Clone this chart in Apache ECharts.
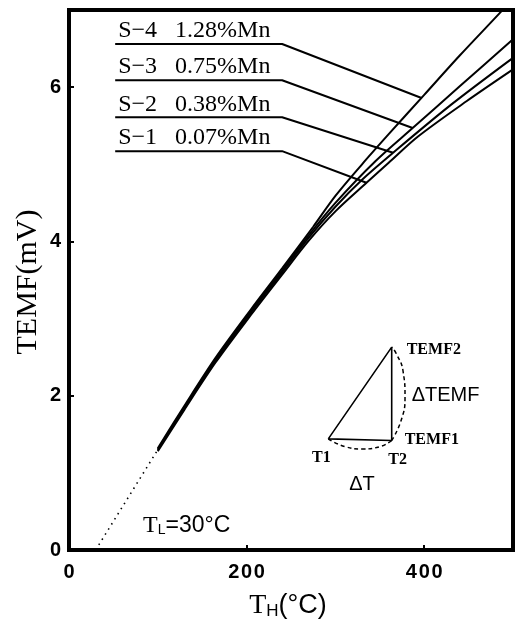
<!DOCTYPE html>
<html><head><meta charset="utf-8">
<script src="https://cdn.jsdelivr.net/npm/echarts@6/dist/echarts.min.js"></script>
<style>html,body{margin:0;padding:0;background:#fff}#c{width:521px;height:626px}</style>
</head><body><div id="c"></div>
<script>
// ---- data ----
const seriesNames = ['S\u22124\u2002 1.28%Mn','S\u22123\u2002 0.75%Mn','S\u22122\u2002 0.38%Mn','S\u22121\u2002 0.07%Mn'];
const s4T = [100,130,165,205,240,275,300,330,360,400,440,485,500];
const s4V = [1.32,1.87,2.49,3.12,3.65,4.19,4.59,5.00,5.39,5.90,6.41,6.96,7.15];
const s3T = [100,130,165,205,240,270,300,345,387,440,500];
const s3V = [1.30,1.85,2.47,3.10,3.62,4.08,4.50,5.04,5.47,6.01,6.62];
const s2T = [100,130,165,205,240,270,300,330,365,430,500];
const s2V = [1.30,1.84,2.45,3.08,3.60,4.05,4.45,4.80,5.15,5.77,6.38];
const s1T = [100,130,165,205,240,270,300,335,360,393,448,500];
const s1V = [1.28,1.82,2.43,3.05,3.57,4.01,4.39,4.76,5.02,5.36,5.82,6.23];
const dotT = [30,100];
const dotV = [0,1.30];
// leader lines (label rows, bend, end on curves)
const labelV = [6.56,6.09,5.61,5.17];
const leaderStartT = 52, leaderBendT = 240;
const leaderEndT = [397,387,365,335];
const leaderEndV = [5.86,5.47,5.15,4.76];
// inset schematic
const triT = [292,363.4,363.4,292];
const triV = [1.44,1.42,2.63,1.44];
const arcDT_T = [292,310.8,330,350.2,363.4];
const arcDT_V = [1.44,1.34,1.31,1.34,1.42];
const arcDE_T = [363.4,373.9,378.4,376.1,368.2,363.4];
const arcDE_V = [1.42,1.676,1.974,2.324,2.553,2.63];
const xTicks = [0,200,400];
const yTicks = [0,2,4,6];

const zip = (a,b)=>a.map((v,i)=>[v,b[i]]);
const chart = echarts.init(document.getElementById('c'),null,{renderer:'canvas'});
const blk = '#000';
const curveData = [zip(s4T,s4V),zip(s3T,s3V),zip(s2T,s2V),zip(s1T,s1V)];
const series = [];
curveData.forEach((d,i)=>series.push({type:'line',name:seriesNames[i],data:d,showSymbol:false,smooth:0.3,
  lineStyle:{color:blk,width:2},silent:true,z:3}));
series.push({type:'line',data:zip(dotT,dotV),showSymbol:false,lineStyle:{color:blk,width:1.6,type:[1.5,4.5]},silent:true});
labelV.forEach((v,i)=>series.push({type:'line',data:[[leaderStartT,v],[leaderBendT,v],[leaderEndT[i],leaderEndV[i]]],
  showSymbol:false,lineStyle:{color:blk,width:2},silent:true}));
series.push({type:'line',data:zip(triT,triV),showSymbol:false,lineStyle:{color:blk,width:1.6},silent:true});
series.push({type:'line',data:zip(arcDT_T,arcDT_V),smooth:true,showSymbol:false,lineStyle:{color:blk,width:1.5,type:[4,3]},silent:true});
series.push({type:'line',data:zip(arcDE_T,arcDE_V),smooth:true,showSymbol:false,lineStyle:{color:blk,width:1.5,type:[4,3]},silent:true});

const tickFont = {color:blk,fontFamily:'Liberation Sans',fontSize:20,fontWeight:'bold'};
chart.setOption({
  animation:false,
  backgroundColor:'#fff',
  grid:{left:69,top:10,right:8,bottom:76,show:true,borderColor:blk,borderWidth:4},
  xAxis:{type:'value',min:0,max:500,interval:200,
    axisLine:{show:false},splitLine:{show:false},
    axisTick:{show:true,inside:true,length:5,lineStyle:{color:blk,width:2}},
    axisLabel:Object.assign({margin:12,showMaxLabel:false,formatter:v=>xTicks.includes(v)?String(v).split('').join('\u200a'):''},tickFont)},
  yAxis:{type:'value',min:0,max:7,interval:2,
    axisLine:{show:false},splitLine:{show:false},
    axisTick:{show:true,inside:true,length:5,lineStyle:{color:blk,width:2}},
    axisLabel:Object.assign({margin:8,showMaxLabel:false,formatter:v=>yTicks.includes(v)?String(v):''},tickFont)},
  series:series
});

const P = (t,v)=>chart.convertToPixel({gridIndex:0},[t,v]);
const g = [];
labelV.forEach((v,i)=>{
  const p = P(leaderStartT,v);
  g.push({type:'text',x:p[0]+3,y:p[1]-1,style:{text:seriesNames[i],fill:blk,font:'24px "Liberation Serif"',textAlign:'left',textVerticalAlign:'bottom'}});
});
// axis titles
g.push({type:'text',x:28,y:282,rotation:Math.PI/2,style:{text:'TEMF(mV)',fill:blk,font:'30px "Liberation Serif"',textAlign:'center',textVerticalAlign:'middle'}});
g.push({type:'text',x:288,y:606,style:{text:'{t|T}{s|H}{p|(°C)}',fill:blk,textAlign:'center',textVerticalAlign:'middle',
  rich:{t:{font:'28px "Liberation Serif"',fill:blk},s:{font:'17px "Liberation Sans"',fill:blk,padding:[10,0,0,0]},p:{font:'27px "Liberation Sans"',fill:blk}}}});
g.push({type:'text',x:143,y:526,style:{text:'{t|T}{s|L}{p|=30°C}',fill:blk,textAlign:'left',textVerticalAlign:'middle',
  rich:{t:{font:'24px "Liberation Serif"',fill:blk},s:{font:'14px "Liberation Sans"',fill:blk,padding:[9,0,0,0]},p:{font:'23px "Liberation Sans"',fill:blk}}}});
// inset labels
const pE2 = P(triT[2],triV[2]), pT2 = P(triT[1],triV[1]), pT1 = P(triT[0],triV[0]);
const bf = 'bold 16px "Liberation Serif"';
g.push({type:'text',x:pE2[0]+15,y:pE2[1]+3,style:{text:'TEMF2',fill:blk,font:bf,textAlign:'left',textVerticalAlign:'middle'}});
g.push({type:'text',x:pT2[0]+13,y:pT2[1]-1,style:{text:'TEMF1',fill:blk,font:bf,textAlign:'left',textVerticalAlign:'middle'}});
g.push({type:'text',x:pT1[0]-7,y:pT1[1]+19,style:{text:'T1',fill:blk,font:bf,textAlign:'center',textVerticalAlign:'middle'}});
g.push({type:'text',x:pT2[0]+6,y:pT2[1]+19,style:{text:'T2',fill:blk,font:bf,textAlign:'center',textVerticalAlign:'middle'}});
g.push({type:'text',x:pT2[0]+20,y:(pE2[1]+pT2[1])/2+2,style:{text:'\u0394TEMF',fill:blk,font:'20px "Liberation Sans"',textAlign:'left',textVerticalAlign:'middle'}});
g.push({type:'text',x:(pT1[0]+pT2[0])/2+2,y:pT2[1]+44,style:{text:'\u0394T',fill:blk,font:'20px "Liberation Sans"',textAlign:'center',textVerticalAlign:'middle'}});
chart.setOption({graphic:g});
</script></body></html>
